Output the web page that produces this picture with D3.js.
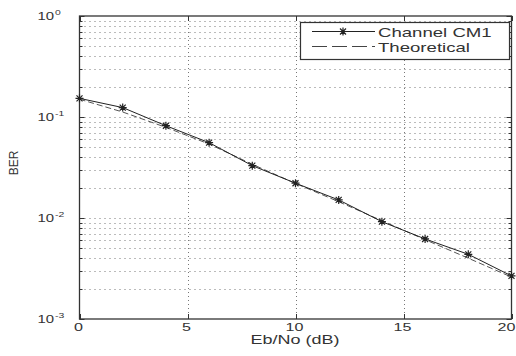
<!DOCTYPE html>
<html>
<head>
<meta charset="utf-8">
<script src="https://cdn.jsdelivr.net/npm/d3@7"></script>
<style>
  body { margin: 0; background: #fff; }
  text { font-family: "Liberation Sans", Arial, sans-serif; fill: #333; }
</style>
</head>
<body>
<svg id="chart"></svg>
<script>
const WIDTH = 516;
const HEIGHT = 356;

// Eb/No points (dB)
const ebno = [0, 2, 4, 6, 8, 10, 12, 14, 16, 18, 20];
// BER
const berCM1 = [0.153, 0.124, 0.082, 0.0557, 0.033, 0.0221, 0.0151, 0.0092, 0.0062, 0.00437, 0.00267];
const berTheory = [0.150, 0.112, 0.079, 0.054, 0.034, 0.022, 0.0145, 0.0094, 0.0061, 0.0040, 0.0026];

const xTicks = [0, 5, 10, 15, 20];
const yMajor = [1e-3, 1e-2, 1e-1, 1];
const yExp = ["-3", "-2", "-1", "0"];
const seriesNames = ["Channel CM1", "Theoretical"];

const svg = d3.select('#chart').attr('width', WIDTH).attr('height', HEIGHT);

const x = d3.scaleLinear().domain([0, 20]).range([79.5, 511.5]);
const y = d3.scaleLog().domain([1e-3, 1]).range([319, 16]);

// stretched text helper (the reference glyphs are wide)
function label(g, px, py, str, size, sx, anchor) {
    return g.append('text')
        .attr('transform', 'translate(' + px + ',' + py + ') scale(' + sx + ',1)')
        .attr('text-anchor', anchor)
        .style('font-size', size + 'px')
        .text(str);
}

// grid
const grid = svg.append('g');
grid.selectAll('line.h')
    .data(y.ticks().filter(v => v > 1e-3 && v < 1))
    .enter().append('line')
    .attr('x1', x(0)).attr('x2', x(20))
    .attr('y1', d => Math.round(y(d)) + 0.5).attr('y2', d => Math.round(y(d)) + 0.5)
    .style('stroke', '#777').style('stroke-width', 1).style('stroke-dasharray', '1,4');
grid.selectAll('line.v')
    .data(xTicks.slice(1, -1))
    .enter().append('line')
    .attr('x1', d => Math.round(x(d)) + 0.5).attr('x2', d => Math.round(x(d)) + 0.5)
    .attr('y1', y(1)).attr('y2', y(1e-3))
    .style('stroke', '#777').style('stroke-width', 1).style('stroke-dasharray', '1,3');

// ticks
const ticks = svg.append('g').style('stroke', '#333').style('stroke-width', 1);
y.ticks().forEach(v => {
    const len = yMajor.includes(v) ? 5 : 3;
    const yy = Math.round(y(v)) + 0.5;
    ticks.append('line').attr('x1', x(0)).attr('x2', x(0) + len).attr('y1', yy).attr('y2', yy);
    ticks.append('line').attr('x1', x(20)).attr('x2', x(20) - len).attr('y1', yy).attr('y2', yy);
});
xTicks.forEach(v => {
    const xx = Math.round(x(v)) + 0.5;
    ticks.append('line').attr('x1', xx).attr('x2', xx).attr('y1', y(1e-3)).attr('y2', y(1e-3) - 5);
    ticks.append('line').attr('x1', xx).attr('x2', xx).attr('y1', y(1)).attr('y2', y(1) + 5);
});

// axes box
svg.append('rect')
    .attr('x', x(0)).attr('y', y(1))
    .attr('width', x(20) - x(0)).attr('height', y(1e-3) - y(1))
    .style('fill', 'none').style('stroke', '#333').style('stroke-width', 1.3);

// tick labels (last one kept inside the page edge)
const tl = svg.append('g');
xTicks.forEach((v, i) => {
    if (i === xTicks.length - 1) label(tl, WIDTH - 0.5, 331, String(v), 11.5, 1.4, 'end');
    else label(tl, x(v) - 1, 331, String(v), 11.5, 1.4, 'middle');
});
yMajor.forEach((v, i) => {
    label(tl, 54, y(v) + 4, '10', 11.5, 1.3, 'end');
    label(tl, 55, y(v) - 1, yExp[i], 8, 1.3, 'start');
});

// axis titles
label(svg, 295, 344, 'Eb/No (dB)', 12, 1.5, 'middle');
svg.append('text')
    .attr('transform', 'translate(18,163) rotate(-90)')
    .attr('text-anchor', 'middle')
    .style('font-size', '12px')
    .text('BER');

// series
const line = d3.line().x((d, i) => x(ebno[i])).y(d => y(d));
svg.append('path')
    .datum(berTheory)
    .attr('d', line)
    .style('fill', 'none').style('stroke', '#555').style('stroke-width', 1)
    .style('stroke-dasharray', '6,3');
svg.append('path')
    .datum(berCM1)
    .attr('d', line)
    .style('fill', 'none').style('stroke', '#222').style('stroke-width', 1);

const star = 'M-4,0H4M0,-4V4M-3,-3L3,3M-3,3L3,-3';
svg.selectAll('path.star')
    .data(berCM1)
    .enter().append('path')
    .attr('class', 'star')
    .attr('transform', (d, i) => 'translate(' + x(ebno[i]) + ',' + y(d) + ')')
    .attr('d', star)
    .style('stroke', '#222').style('stroke-width', 1.2).style('fill', 'none');

// legend
const lg = svg.append('g');
lg.append('rect')
    .attr('x', 300.5).attr('y', 22.5).attr('width', 209).attr('height', 37)
    .style('fill', '#fff').style('stroke', '#333').style('stroke-width', 1.2);
lg.append('line').attr('x1', 312).attr('x2', 375).attr('y1', 31.5).attr('y2', 31.5)
    .style('stroke', '#222').style('stroke-width', 1);
lg.append('path').attr('transform', 'translate(343,31.5)').attr('d', star)
    .style('stroke', '#222').style('stroke-width', 1.2);
lg.append('line').attr('x1', 312).attr('x2', 375).attr('y1', 46.5).attr('y2', 46.5)
    .style('stroke', '#444').style('stroke-width', 1).style('stroke-dasharray', '15,5');
label(lg, 378, 37, seriesNames[0], 12, 1.55, 'start');
label(lg, 378, 51.5, seriesNames[1], 12, 1.55, 'start');
</script>
</body>
</html>
